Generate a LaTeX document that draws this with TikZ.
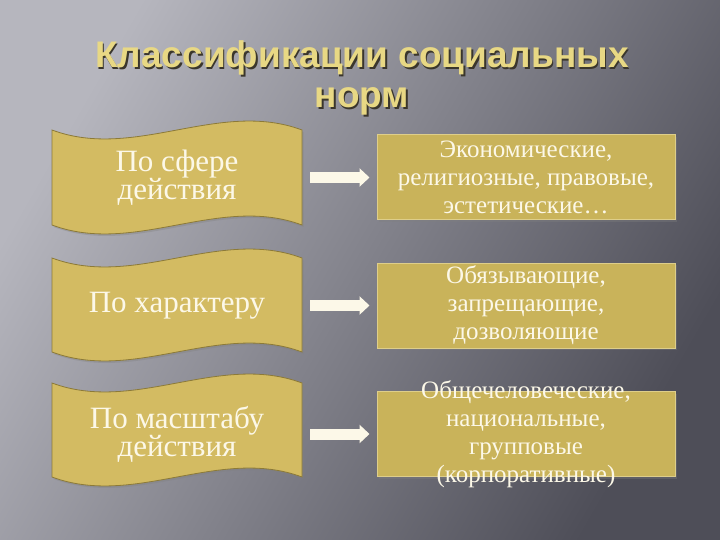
\documentclass[tikz,border=0pt]{standalone}
\usepackage{fontspec}
\setmainfont{Liberation Serif}
\newfontfamily\titlefont{Liberation Sans}
\usetikzlibrary{arrows.meta,shadows}
\definecolor{bglight}{RGB}{182,182,190}
\definecolor{bgdark}{RGB}{78,78,88}
\definecolor{gold}{RGB}{211,187,98}
\definecolor{golddark}{RGB}{140,122,56}
\definecolor{boxgold}{RGB}{201,179,90}
\definecolor{boxedge}{RGB}{222,206,138}
\definecolor{cream}{RGB}{252,248,232}
\definecolor{titlegold}{RGB}{232,216,132}
\definecolor{titleshade}{RGB}{58,54,44}
\tikzset{
  wavebox/.style={draw=golddark, fill=gold, line width=0.8pt,
    drop shadow={shadow xshift=1.5pt, shadow yshift=-2pt, opacity=0.35}},
  kindtext/.style={minimum width=250pt, minimum height=94pt, align=center,
    text=cream, font=\fontsize{31}{28}\selectfont},
  valbox/.style={draw=boxedge, fill=boxgold, line width=1pt,
    minimum width=298pt, minimum height=85pt,
    drop shadow={shadow xshift=1.5pt, shadow yshift=-2pt, opacity=0.35}},
  valtext/.style={align=center, text=cream, font=\fontsize{25}{28}\selectfont},
  blockarrow/.style={draw=cream, line width=11pt,
    -{Triangle[width=18pt,length=10pt]}, shorten <=8pt, shorten >=7pt},
  titletext/.style={anchor=base, align=center, text=titlegold,
    font=\titlefont\bfseries\fontsize{37}{40}\selectfont}
}
\begin{document}
\begin{tikzpicture}[x=1pt,y=-1pt]
    \shade[top color=bglight, bottom color=bgdark, shading angle=60] (0,0) rectangle (720,540);
    \useasboundingbox (0,0) rectangle (720,540);
    \node[titletext, text=titleshade] (ttlshadow) at (363.5,109.5) {Классификации социальных\\норм};
    \node[titletext] (ttl) at (362,108) {Классификации социальных\\норм};
    \filldraw[wavebox] (52,130) .. controls (135,161) and (219,99) .. (302,130) -- (302,225) .. controls (219,194) and (135,256) .. (52,225) -- cycle;
    \filldraw[wavebox] (52,258) .. controls (135,289) and (219,227) .. (302,258) -- (302,352) .. controls (219,321) and (135,383) .. (52,352) -- cycle;
    \filldraw[wavebox] (52,383) .. controls (135,414) and (219,352) .. (302,383) -- (302,477) .. controls (219,446) and (135,508) .. (52,477) -- cycle;
    \node[kindtext] (k1) at (177,177.5) {По сфере\\действия};
    \node[kindtext] (k2) at (177,305.5) {По характеру};
    \node[kindtext] (k3) at (177,434) {По масштабу\\действия};
    \node[valbox] (t1) at (526,177.5) {};
    \node[valbox] (t2) at (526,305.5) {};
    \node[valbox] (t3) at (526,434) {};
    \node[valtext] (v1) at (t1) {Экономические,\\религиозные, правовые,\\эстетические\dots};
    \node[valtext] (v2) at (t2) {Обязывающие,\\запрещающие,\\дозволяющие};
    \node[valtext] (v3) at (t3) {Общечеловеческие,\\национальные,\\групповые\\(корпоративные)};
    \draw[blockarrow] (k1.east) -- (t1.west);
    \draw[blockarrow] (k2.east) -- (t2.west);
    \draw[blockarrow] (k3.east) -- (t3.west);
\end{tikzpicture}
\end{document}
